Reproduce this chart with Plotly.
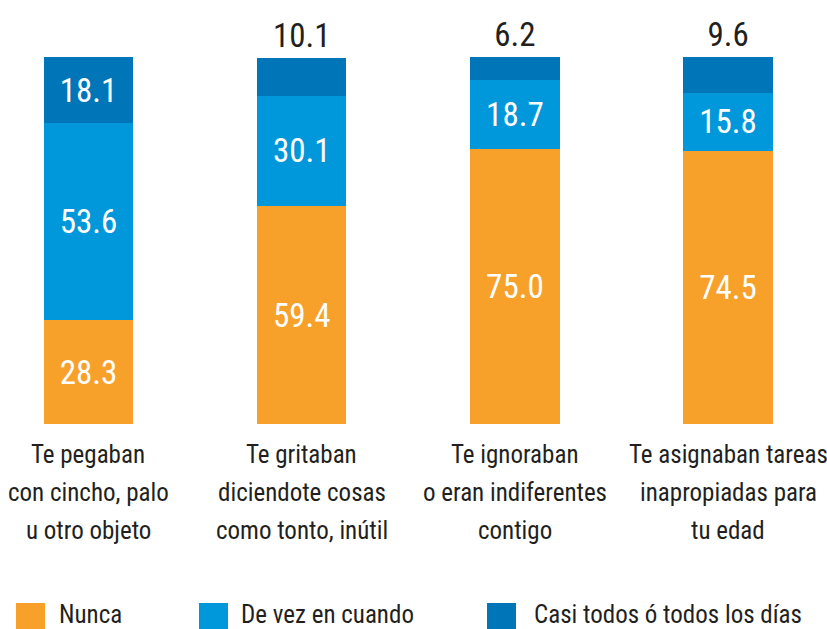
import plotly.graph_objects as go

categories = ["Te pegaban", "Te gritaban", "Te ignoraban", "Te asignaban tareas"]
category_lines = [
    ["Te pegaban", "con cincho, palo", "u otro objeto"],
    ["Te gritaban", "diciendote cosas", "como tonto, inútil"],
    ["Te ignoraban", "o eran indiferentes", "contigo"],
    ["Te asignaban tareas", "inapropiadas para", "tu edad"],
]
nunca = [28.3, 59.4, 75.0, 74.5]
de_vez = [53.6, 30.1, 18.7, 15.8]
casi_todos = [18.1, 10.1, 6.2, 9.6]
series_names = ["Nunca", "De vez en cuando", "Casi todos ó todos los días"]

ORANGE = "#F7A12B"
LIGHT_BLUE = "#0098DA"
DARK_BLUE = "#0075B7"
INK = "#231F20"
FONT = "Roboto Condensed, DejaVu Sans Condensed, Roboto, sans-serif"

W, H = 827, 629
TOP, BOTTOM = 57, 424


def px_x(p):
    return p / W


def px_y(p):
    return (BOTTOM - p) / (BOTTOM - TOP)


fig = go.Figure()
for vals, name, color in [(nunca, series_names[0], ORANGE),
                          (de_vez, series_names[1], LIGHT_BLUE),
                          (casi_todos, series_names[2], DARK_BLUE)]:
    top = color == DARK_BLUE
    fig.add_trace(go.Bar(
        x=categories,
        y=vals,
        name=name,
        marker=dict(color=color, line=dict(width=0)),
        width=0.42,
        text=[f"{v:.1f}" for v in vals],
        textposition=(["inside", "outside", "outside", "outside"] if top else "inside"),
        insidetextanchor="middle",
        textangle=0,
        insidetextfont=dict(family=FONT, size=33, color="white"),
        outsidetextfont=dict(family=FONT, size=33, color=INK),
        cliponaxis=False,
        showlegend=False,
        hoverinfo="skip",
    ))

# category labels, one annotation per line for the wider line spacing
for cat, lines in zip(categories, category_lines):
    for i, line in enumerate(lines):
        fig.add_annotation(xref="x", yref="paper", x=cat, y=px_y(454 + 38 * i),
                           text=line, showarrow=False, xanchor="center", yanchor="middle",
                           font=dict(family=FONT, size=25, color=INK))

# legend drawn by hand to get the large square swatches
legend_items = [(16, 57, ORANGE), (199, 239, LIGHT_BLUE), (487, 532, DARK_BLUE)]
for (sx, tx, color), name in zip(legend_items, series_names):
    fig.add_shape(type="rect", xref="paper", yref="paper",
                  x0=px_x(sx), x1=px_x(sx + 29), y0=px_y(603), y1=px_y(632),
                  fillcolor=color, line=dict(width=0))
    fig.add_annotation(xref="paper", yref="paper", x=px_x(tx), y=px_y(614),
                       text=name, showarrow=False, xanchor="left", yanchor="middle",
                       font=dict(family=FONT, size=25, color=INK))

fig.update_layout(
    width=W, height=H,
    barmode="stack",
    margin=dict(l=0, r=0, t=TOP, b=H - BOTTOM),
    plot_bgcolor="white",
    paper_bgcolor="white",
    xaxis=dict(range=[-0.415, 3.464], showgrid=False, zeroline=False, showline=False,
               ticks="", showticklabels=False),
    yaxis=dict(range=[0, 100], visible=False),
)

fig.write_html(
    "out.html",
    config={"displayModeBar": False},
    post_script="var s=document.createElement('style');"
                "s.textContent='body{margin:0;} svg text{font-stretch:condensed !important;}';"
                "document.head.appendChild(s);",
)
